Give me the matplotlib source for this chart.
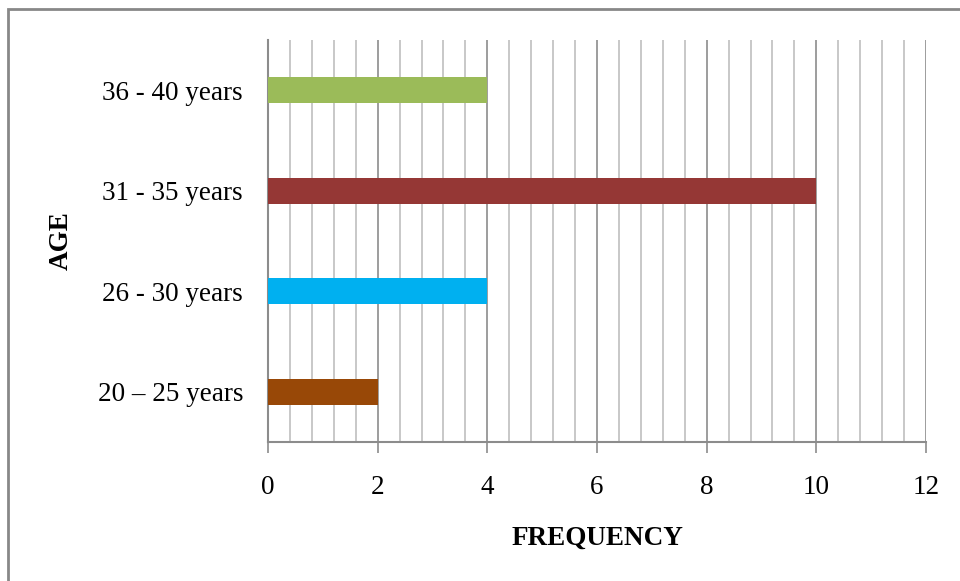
import numpy as np
import matplotlib.pyplot as plt
from matplotlib.patches import Rectangle

# age groups and their counts
ages = ['20 – 25 years', '26 - 30 years', '31 - 35 years', '36 - 40 years']
freq = [2, 4, 10, 4]
colors = ['#984807', '#00B0F0', '#953735', '#9BBB59']

plt.rcParams['font.family'] = ['Liberation Serif', 'DejaVu Serif']

fig = plt.figure(figsize=(9.6, 5.81), dpi=100)
ax = fig.add_axes([268/960, 1-442/581, (926-268)/960, (442-40)/581])

y = np.arange(len(ages))
ax.barh(y, freq, height=0.26, color=colors, zorder=3)

ax.set_xlim(0, 12)
ax.set_ylim(-0.5, 3.5)

# light minor grid every 0.4, darker at the labelled ticks
for v in np.arange(0.4, 12, 0.4):
    if abs(v/2 - round(v/2)) < 1e-6:
        ax.axvline(v, color='#8c8c8c', lw=1.2, zorder=1)
    else:
        ax.axvline(v, color='#bfbfbf', lw=1.2, zorder=1)
ax.axvline(12, color='#8c8c8c', lw=1.2, zorder=1)

ax.set_xticks(np.arange(0, 13, 2))
ax.set_yticks(y)
ax.set_yticklabels(ages)
ax.tick_params(axis='x', length=8, width=1.2, color='#8c8c8c', labelsize=19.5, pad=16)
ax.tick_params(axis='y', length=0, labelsize=19.5, pad=18)

for s in ['top', 'right']:
    ax.spines[s].set_visible(False)
for s in ['left', 'bottom']:
    ax.spines[s].set_color('#8c8c8c')
    ax.spines[s].set_linewidth(1.5)

ax.set_xlabel('FREQUENCY', fontsize=19.5, fontweight='bold', labelpad=18)
ax.set_ylabel('AGE', fontsize=19.5, fontweight='bold', labelpad=17)

# outer chart border
fig.patches.append(Rectangle((8/960, -0.05), 1.1, 1-9/581+0.05, transform=fig.transFigure,
                             fill=False, edgecolor='#888888', lw=2))

fig.savefig('out.png', dpi=100)
